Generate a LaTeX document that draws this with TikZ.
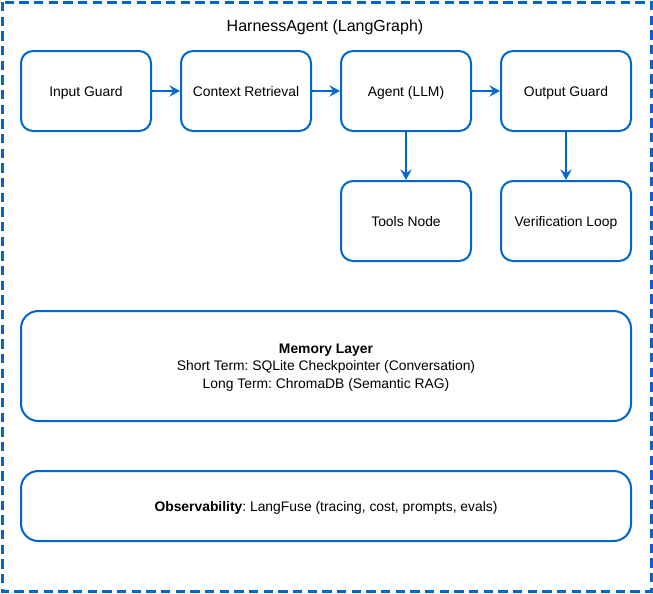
\documentclass[tikz,border=0pt]{standalone}
\usepackage{fontspec}
\setmainfont{Liberation Sans}
\frenchspacing
\usetikzlibrary{arrows.meta, positioning}
\definecolor{hblue}{HTML}{0066CC}
\tikzset{
  % riquadro del grafo
  frame/.style={draw=hblue, line width=2.25pt, dash pattern=on 7pt off 4pt},
  % passo del grafo
  stepbox/.style={draw=hblue, line width=1.5pt, rounded corners=9pt, fill=white,
    minimum width=97.5pt, minimum height=60pt, align=center, inner sep=2pt},
  % strato trasversale
  layerbox/.style={draw=hblue, line width=1.5pt, rounded corners=13pt, fill=white,
    minimum width=457.5pt, align=center, inner sep=2pt},
  % freccia del flusso
  flow/.style={-{Stealth[length=8pt, width=8.5pt, inset=3pt]}, draw=hblue, line width=1.5pt},
}

\begin{document}
\begin{tikzpicture}[x=0.75pt, y=-0.75pt,
  every node/.style={font=\fontsize{10.4}{13.2}\selectfont, text depth=0pt}]
  \useasboundingbox (0,0) rectangle (653,593);
  % contenitore
  \draw[frame] (2,2) rectangle (651,591);
  \node[font=\fontsize{12}{14}\selectfont] (title) at (325,26) {HarnessAgent (LangGraph)};
  % pipeline principale
  \node[stepbox] (input) at (86,91) {Input Guard};
  \node[stepbox] (context) at (246,91) {Context Retrieval};
  \node[stepbox] (agent) at (406,91) {Agent (LLM)};
  \node[stepbox] (output) at (566,91) {Output Guard};
  \node[stepbox] (tools) at (406,221) {Tools Node};
  \node[stepbox] (verify) at (566,221) {Verification Loop};
  \foreach \a/\b in {input/context, context/agent, agent/output}
    \draw[flow] (\a) -- (\b);
  \draw[flow] (agent) -- (tools);
  \draw[flow] (output) -- (verify);
  % memoria e osservabilita
  \node[layerbox, minimum height=82.5pt] (memory) at (326,366)
    {\textbf{Memory Layer}\\Short Term: SQLite Checkpointer (Conversation)\\Long Term: ChromaDB (Semantic RAG)};
  \node[layerbox, minimum height=52.5pt] (observ) at (326,506)
    {\textbf{Observability}: LangFuse (tracing, cost, prompts, evals)};
\end{tikzpicture}
\end{document}
